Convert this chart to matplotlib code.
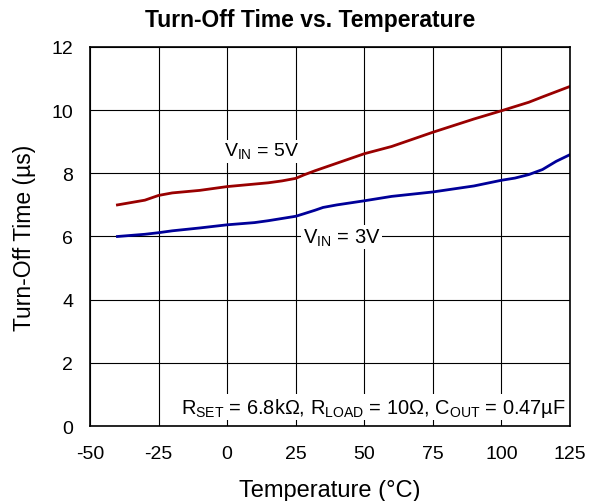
import matplotlib
matplotlib.use("Agg")
import matplotlib.pyplot as plt

plt.rcParams['font.family'] = ['Liberation Sans', 'DejaVu Sans']
plt.rcParams['mathtext.fontset'] = 'custom'
plt.rcParams['mathtext.rm'] = 'Liberation Sans'
plt.rcParams['axes.unicode_minus'] = False

temp_5v = [-40, -30, -25, -20, -10, 0, 10, 15, 20, 25, 28, 32, 40, 50, 60, 75, 90, 100, 110, 115, 125]
toff_5v = [7.0, 7.15, 7.3, 7.38, 7.46, 7.58, 7.66, 7.7, 7.76, 7.84, 7.95, 8.08, 8.32, 8.62, 8.85, 9.3, 9.72, 9.98, 10.25, 10.42, 10.75]
temp_3v = [-40, -30, -25, -20, -10, 0, 10, 15, 20, 25, 28, 32, 35, 40, 50, 60, 75, 90, 100, 105, 110, 115, 120, 125]
toff_3v = [6.0, 6.07, 6.12, 6.18, 6.27, 6.37, 6.44, 6.5, 6.57, 6.64, 6.72, 6.83, 6.92, 7.0, 7.13, 7.27, 7.41, 7.6, 7.78, 7.85, 7.96, 8.12, 8.38, 8.59]

xticks = [-50, -25, 0, 25, 50, 75, 100, 125]
yticks = [0, 2, 4, 6, 8, 10, 12]

fig = plt.figure(figsize=(5.98, 5.02), dpi=100)
ax = fig.add_axes([0.1505, 0.1494, 0.8025, 0.755])
ax.plot(temp_5v, toff_5v, color='#990000', lw=2)
ax.plot(temp_3v, toff_3v, color='#000099', lw=2)
ax.set_xlim(-50, 125)
ax.set_ylim(0, 12)
ax.set_xticks(xticks)
ax.set_yticks(yticks)
ax.grid(True, color='black', lw=0.8)
ax.tick_params(length=0, labelsize=14)
ax.tick_params(axis='x', pad=14)
ax.tick_params(axis='y', pad=12)
for s in ax.spines.values():
    s.set_linewidth(1.2)
ax.set_xlabel('Temperature (°C)', fontsize=17, labelpad=12)
ax.set_ylabel('Turn-Off Time (µs)', fontsize=16.5, labelpad=11)
fig.text(310 / 598, 1 - 20 / 502, 'Turn-Off Time vs. Temperature', fontsize=16.5,
         fontweight='bold', ha='center', va='center')

bb = dict(facecolor='white', edgecolor='none', pad=1)
ax.text(-1, 8.7, r'V$_\mathregular{IN}$ = 5V', fontsize=14, va='center', ha='left', bbox=bb)
ax.text(27.5, 5.98, r'V$_\mathregular{IN}$ = 3V', fontsize=14.5, va='center', ha='left', bbox=bb)
ax.text(123.5, 0.6, r'R$_\mathregular{SET}$ = 6.8kΩ, R$_\mathregular{LOAD}$ = 10Ω, C$_\mathregular{OUT}$ = 0.47µF',
        fontsize=14.4, va='center', ha='right', bbox=bb)

fig.savefig('out.png', dpi=100)
